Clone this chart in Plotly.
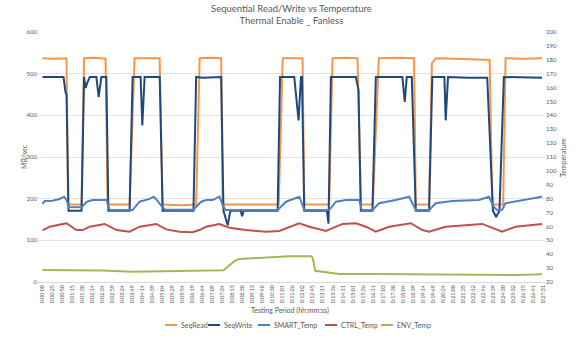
import plotly.graph_objects as go

# ---- data ----
time_labels = ["0:00:00","0:00:25","0:00:50","0:01:15","0:01:38","0:02:14","0:02:34","0:02:59","0:03:24","0:03:49",
               "0:04:14","0:04:39","0:05:04","0:05:29","0:05:54","0:06:19","0:06:44","0:07:09","0:07:34","0:08:13",
               "0:08:38","0:09:13","0:09:48","0:10:30","0:11:01","0:11:26","0:12:02","0:12:45","0:13:11","0:13:36",
               "0:14:11","0:15:01","0:15:36","0:16:11","0:17:03","0:17:38","0:18:04","0:18:39","0:19:14","0:19:49",
               "0:20:24","0:21:00","0:21:35","0:22:12","0:22:46","0:23:39","0:24:30","0:25:32","0:26:15","0:26:41",
               "0:27:31"]
tick_pos = list(range(len(time_labels)))

series_names = ["SeqRead", "SeqWrite", "SMART_Temp", "CTRL_Temp", "ENV_Temp"]
series_colors = ["#F79646", "#1F497D", "#4F81BD", "#C0504D", "#9BBB59"]

read_x = [0, 1.2, 2.4, 2.55, 3.9, 4.15, 5.2, 6.3, 6.5, 8.7, 9.2, 10.5, 11.7, 12.0, 14.0, 15.35, 15.7, 16.8, 17.85, 18.0,
          23.6, 24.0, 25.98, 26.15, 28.64, 28.97, 30.2, 31.47, 31.8, 33.0, 33.2, 33.6, 35.5, 37.12, 37.29, 38.62, 38.9,
          39.3, 42.0, 44.67, 44.93, 46.02, 46.26, 48.0, 49.9]
read_y = [537, 536, 537, 186, 186, 537, 538, 536, 186, 186, 537, 537, 537, 186, 184, 186, 537, 538, 537, 186,
          186, 537, 537, 186, 186, 537, 538, 537, 186, 186, 300, 537, 538, 537, 186, 186, 525,
          537, 535, 533, 186, 186, 537, 536, 537]

write_x = [0, 2.1, 2.3, 2.4, 2.6, 3.9, 4.15, 4.3, 4.5, 4.72, 5.38, 5.61, 5.88, 6.38, 6.58, 8.7, 9.0, 9.8, 9.97, 10.2,
           11.71, 12.0, 15.08, 15.35, 16.0, 17.85, 18.08, 18.5, 18.77, 19.8, 19.94, 20.1, 23.49, 23.73, 25.15, 25.58,
           25.82, 25.92, 26.15, 28.41, 28.57, 28.81, 31.31, 31.57, 31.8, 32.96, 33.3, 35.95, 36.19, 36.39, 36.89,
           37.29, 38.62, 38.94, 40.15, 40.28, 40.51, 42.5, 44.43, 45.0, 45.32, 45.65, 46.09, 49.9]
write_y = [492, 492, 455, 450, 171, 171, 492, 466, 480, 492, 492, 444, 492, 492, 171, 171, 492, 492, 376, 492,
           492, 171, 171, 492, 490, 492, 171, 136, 171, 171, 158, 171, 171, 492, 492, 388,
           492, 492, 171, 171, 140, 492, 492, 460, 171, 171, 492, 492, 432, 492, 492,
           171, 171, 492, 492, 388, 492, 490, 490, 171, 156, 171, 492, 490]

smart_x = [0, 0.23, 1.0, 1.72, 2.15, 2.4, 2.62, 3.92, 4.42, 5.01, 6.41, 6.71, 9.0, 9.7, 10.7, 11.1, 11.37, 11.97, 12.3,
           15.08, 15.85, 16.35, 17.0, 17.68, 18.08, 18.3, 23.49, 24.33, 25.65, 26.15, 28.64, 29.31, 30.31, 31.64,
           31.9, 32.96, 33.63, 35.29, 36.62, 37.29, 38.62, 39.28, 40.94, 43.59, 44.6, 45.1, 45.4, 45.92, 46.26,
           47.92, 49.9]
smart_y = [76.2, 78.3, 78.5, 79.8, 81.4, 79.0, 74.0, 73.8, 77.8, 79.0, 79.0, 71.8, 71.8, 77.8, 79.8, 81.4, 79.4, 74.0, 72.0,
           72.0, 77.8, 79.0, 79.0, 81.4, 74.2, 71.8, 71.8, 77.8, 81.4, 71.8, 71.8, 77.8, 79.0, 79.0,
           71.8, 71.8, 76.7, 79.0, 81.4, 71.8, 71.8, 76.7, 78.3, 79.0, 81.4, 74.0, 71.8, 72.0, 76.7,
           79.0, 81.4]

ctrl_x = [0, 0.73, 2.02, 2.39, 3.39, 4.02, 4.72, 6.21, 7.41, 8.7, 9.7, 11.37, 12.36, 13.69, 14.99, 15.68, 16.35, 17.68,
          18.67, 20.34, 22.33, 23.66, 25.65, 26.65, 28.32, 29.97, 31.31, 32.3, 33.3, 34.63, 36.79, 37.95, 38.62,
          40.28, 43.93, 45.92, 47.26, 49.91]
ctrl_y = [57.2, 59.8, 61.8, 62.3, 57.4, 57.4, 59.8, 61.8, 57.4, 56.2, 59.8, 61.8, 57.9, 56.2, 55.8, 57.4, 59.8, 61.8,
          59.1, 57.4, 56.2, 56.7, 62.3, 59.8, 56.7, 61.8, 62.3, 59.8, 56.2, 59.8, 62.3, 57.4, 56.2,
          59.8, 61.8, 56.2, 59.8, 61.8]

env_x = [0, 3, 6, 9, 12, 15, 18.08, 18.5, 19.17, 19.67, 21.67, 24.66, 26.88, 27.0, 27.25, 28.64, 29.64, 33, 37, 41, 45,
         47.26, 49.9]
env_y = [28.6, 28.5, 28.3, 27.4, 27.8, 28.0, 28.4, 31.0, 35.0, 36.6, 37.3, 38.5, 38.6, 37.0, 28.1, 26.9, 25.8, 25.8,
         25.6, 25.8, 25.3, 25.0, 25.5]

xs = [read_x, write_x, smart_x, ctrl_x, env_x]
ys = [read_y, write_y, smart_y, ctrl_y, env_y]
axes = ["y", "y", "y2", "y2", "y2"]

fig = go.Figure()
for name, color, x, y, ax in zip(series_names, series_colors, xs, ys, axes):
    fig.add_trace(go.Scatter(x=x, y=y, name=name, mode="lines", yaxis=ax,
                             line=dict(color=color, width=2), showlegend=False))

grey = "#595959"
W, H = 583, 338
L, R, T, B = 38, 38, 32, 56
pw, ph = W - L - R, H - T - B


def px_x(p):
    return (p - L) / pw


def px_y(p):
    return (H - B - p) / ph


annotations = [
    dict(text="Sequential Read/Write vs Temperature<br>Thermal Enable _ Fanless", x=0.5, xref="paper",
         y=px_y(15), yref="paper", yanchor="middle", showarrow=False, font=dict(size=9.5, color=grey)),
    dict(text="Testing Period (hh:mm:ss)", x=px_x(290), xref="paper", y=px_y(310), yref="paper",
         yanchor="middle", showarrow=False, font=dict(size=7, color=grey)),
    dict(text="MB/sec", x=px_x(18), xref="paper", y=px_y(157), yref="paper", textangle=-90,
         showarrow=False, font=dict(size=7, color=grey)),
    dict(text="Temperature", x=px_x(569), xref="paper", y=px_y(158), yref="paper", textangle=-90,
         showarrow=False, font=dict(size=7, color=grey)),
]
shapes = []
# legend (line sample + label), positioned in pixels
legend_line_x0 = [165, 208, 258, 325, 381]
ly = px_y(325)
for name, color, x0 in zip(series_names, series_colors, legend_line_x0):
    shapes.append(dict(type="line", xref="paper", yref="paper", x0=px_x(x0), x1=px_x(x0 + 12),
                       y0=ly, y1=ly, line=dict(color=color, width=2)))
    annotations.append(dict(text=name, x=px_x(x0 + 14), xref="paper", xanchor="left", y=ly, yref="paper",
                            yanchor="middle", showarrow=False, font=dict(size=7, color=grey)))

fig.update_layout(
    width=W, height=H,
    margin=dict(l=L, r=R, t=T, b=B, autoexpand=False),
    paper_bgcolor="white", plot_bgcolor="white",
    font=dict(family="Lato, Open Sans, sans-serif", color=grey),
    showlegend=False,
    xaxis=dict(range=[-0.45, 50.2], tickmode="array", tickvals=tick_pos, ticktext=time_labels,
               tickangle=-90, tickfont=dict(size=5.3, color=grey), showgrid=False, zeroline=False,
               showline=True, linecolor="#D9D9D9", linewidth=1, ticks="", automargin=False),
    yaxis=dict(range=[0, 600], dtick=100, tickfont=dict(size=6, color=grey), showgrid=True,
               gridcolor="#E3E3E3", zeroline=False, showline=False, ticks="", automargin=False),
    yaxis2=dict(range=[20, 200], dtick=10, overlaying="y", side="right", showgrid=False,
                tickfont=dict(size=6, color=grey), zeroline=False, showline=False, ticks="", automargin=False),
    annotations=annotations,
    shapes=shapes,
)

fig.write_html("out.html")
